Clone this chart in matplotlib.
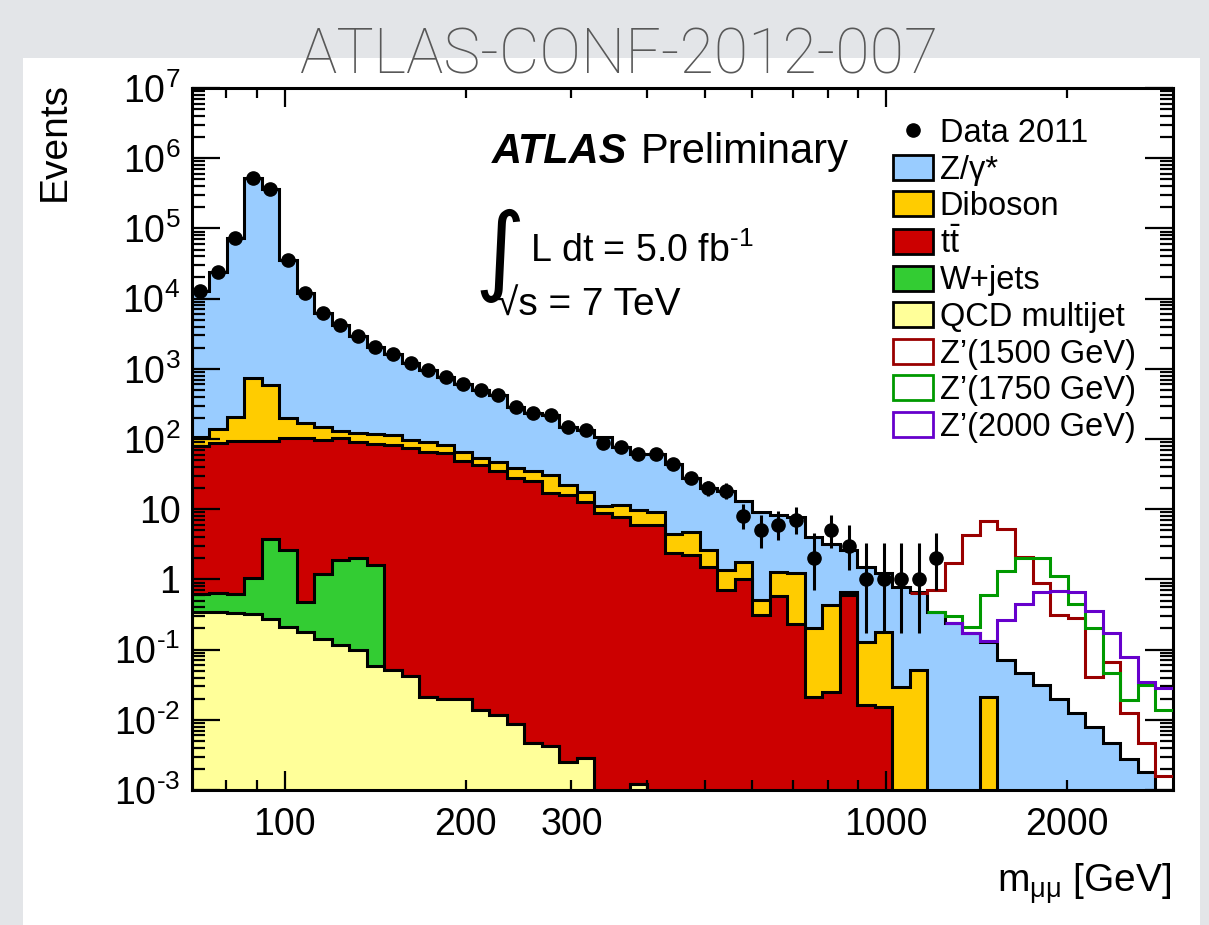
import numpy as np
import matplotlib
matplotlib.use('Agg')
import matplotlib.pyplot as plt
from matplotlib.patches import Rectangle, Patch
from matplotlib.lines import Line2D
from matplotlib.ticker import FixedLocator, FuncFormatter

plt.rcParams['font.family'] = ['Liberation Sans', 'DejaVu Sans']
plt.rcParams['mathtext.fontset'] = 'custom'
plt.rcParams['mathtext.rm'] = 'Liberation Sans'
plt.rcParams['mathtext.it'] = 'Liberation Sans:italic'
plt.rcParams['mathtext.bf'] = 'Liberation Sans:bold'

# Binning: 56 log bins between 70 and 3000 GeV
m_lo, m_hi, n_bins = 70.0, 3000.0, 56
edges = np.logspace(np.log10(m_lo), np.log10(m_hi), n_bins + 1)
centers = np.sqrt(edges[:-1] * edges[1:])

# Data 2011 (events per bin, bins 0..42, zero afterwards)
data = [13000, 24000, 72000, 520000, 360000, 35000, 12000, 6300, 4200, 2900,
        2060, 1600, 1220, 960, 770, 600, 500, 420, 290, 235,
        219, 147, 133, 88, 78, 61, 61, 44, 28, 20,
        18, 8, 5, 6, 7, 2, 5, 3, 1, 1,
        1, 1, 2] + [0] * 13

# Backgrounds (per process, not stacked)
qcd = [0.34, 0.34, 0.33, 0.32, 0.27, 0.21, 0.18, 0.14, 0.116, 0.099,
       0.058, 0.051, 0.042, 0.021, 0.020, 0.020, 0.014, 0.0117, 0.0086, 0.0047,
       0.0042, 0.0025, 0.0029, 0, 0, 0.0012] + [0] * 30
wjets = [0.28, 0.29, 0.29, 0.72, 3.5, 2.4, 0.29, 1.04, 1.77, 1.9,
         1.54] + [0] * 45
ttbar = [79, 87, 92, 92, 89, 102, 104, 96, 100, 89,
         83, 82, 74, 66, 63, 48, 43, 35, 27.6, 25,
         16.8, 15.8, 12.8, 8.7, 7.8, 6.0, 6.0, 2.35, 2.2, 1.5,
         0.71, 1.0, 0.31, 0.58, 0.23, 0.021, 0.025, 0.60, 0.016, 0.015] + [0] * 16
diboson = [28, 49, 116, 640, 497, 92, 63, 50, 29, 29,
           32, 32, 23, 25, 19, 18, 10, 12, 10.4, 10,
           13.9, 6.2, 5.0, 2.4, 3.7, 3.8, 3.2, 2.15, 2.6, 1.1,
           0.65, 0.79, 0.20, 0.71, 0.99, 0.18, 0.40, 0.07, 0.114, 0.165,
           0.0295, 0.051, 0, 0, 0, 0.021] + [0] * 10
zgamma = [12900, 23900, 71800, 519000, 359000, 34800, 11830, 6150, 4070, 2780,
          1940, 1490, 1120, 870, 690, 534, 447, 373, 252, 200,
          188, 125, 115, 94, 66.5, 51, 52, 39.5, 23.2, 17.4,
          16.6, 11.2, 8.7, 7.0, 6.6, 3.87, 2.78, 1.93, 1.37, 1.04,
          0.76, 0.60, 0.347, 0.237, 0.17, 0.109, 0.071, 0.046, 0.031, 0.020,
          0.0124, 0.0080, 0.0046, 0.0028, 0.0018, 0.001]

# Z' signals drawn on top of the total background (bkg + signal), from first bin listed
zp1500_first, zp1500 = 41, [0.65, 0.71, 1.7, 4.3, 6.9, 5.3, 2.1, 0.88, 0.31, 0.28,
                            0.041, 0.066, 0.0124, 0.0046, 0.0016]
zp1750_first, zp1750 = 42, [0.347, 0.30, 0.21, 0.59, 1.33, 2.0, 2.0, 1.13, 0.45, 0.20,
                            0.046, 0.019, 0.031, 0.014]
zp2000_first, zp2000 = 43, [0.237, 0.175, 0.134, 0.26, 0.45, 0.66, 0.69, 0.67, 0.358, 0.17,
                            0.079, 0.035, 0.028]

# Figure in pixel units
W, H = 1209, 925
fig = plt.figure(figsize=(W / 100, H / 100), dpi=100, facecolor='#e3e5e8')
bg = fig.add_axes([0, 0, 1, 1], zorder=0)
bg.set_xlim(0, W)
bg.set_ylim(H, 0)
bg.axis('off')
bg.add_patch(Rectangle((23, 58), 1177, 867, facecolor='white', edgecolor='none'))
bg.text(620, 73, 'ATLAS-CONF-2012-007', ha='center', va='baseline', fontsize=45,
        family=['Roboto', 'DejaVu Sans'], weight='light', color='#585858')

ax_l, ax_r, ax_t, ax_b = 191.5, 1172.7, 88, 790
ax = fig.add_axes([ax_l / W, 1 - ax_b / H, (ax_r - ax_l) / W, (ax_b - ax_t) / H], zorder=2)
ax.set_facecolor('none')

# Stack
layers = [qcd, wjets, ttbar, diboson, zgamma]
colors = ['#ffff99', '#33cc33', '#cc0000', '#ffcc00', '#99ccff']
cum = np.cumsum(np.array(layers, dtype=float), axis=0)
floor = 1e-6
for level, col in zip(cum[::-1], colors[::-1]):
    vals = np.where(level > 0, level, floor)
    ax.stairs(vals, edges, baseline=floor, fill=True, facecolor=col,
              edgecolor='black', linewidth=2.2, zorder=1)

# Signals
for first, vals, col in [(zp1500_first, zp1500, '#990000'),
                         (zp1750_first, zp1750, '#009900'),
                         (zp2000_first, zp2000, '#6600cc')]:
    ax.stairs(vals, edges[first:first + len(vals) + 1], baseline=None,
              color=col, linewidth=2.2, zorder=3)

# Data with Poisson errors
n = np.array(data, dtype=float)
sel = n > 0
nn = n[sel]
lo = nn - nn * (1 - 1 / (9 * nn) - 1 / (3 * np.sqrt(nn))) ** 3
hi = (nn + 1) * (1 - 1 / (9 * (nn + 1)) + 1 / (3 * np.sqrt(nn + 1))) ** 3 - nn
ax.errorbar(centers[sel], nn, yerr=[lo, hi], fmt='o', color='black', ms=9.5,
            elinewidth=2.2, capsize=0, zorder=6)

ax.set_xscale('log')
ax.set_yscale('log')
ax.set_xlim(m_lo, m_hi)
ax.set_ylim(1e-3, 1e7)

for s in ax.spines.values():
    s.set_linewidth(2.2)

ax.xaxis.set_major_locator(FixedLocator([100, 1000]))
ax.xaxis.set_minor_locator(FixedLocator([80, 90, 200, 300, 400, 500, 600, 700, 800, 900, 2000]))
ax.xaxis.set_major_formatter(FuncFormatter(lambda v, p: '%d' % v))
ax.xaxis.set_minor_formatter(FuncFormatter(lambda v, p: '%d' % v if v in (200, 300, 2000) else ''))


def ylab(v, pos):
    e = int(round(np.log10(v)))
    if e == 0:
        return '1'
    if e == 1:
        return '10'
    return r'$\mathregular{10^{%s}}$' % str(e).replace('-', '‐')


ax.yaxis.set_major_locator(FixedLocator([10.0 ** e for e in range(-3, 8)]))
ax.yaxis.set_minor_locator(FixedLocator([m * 10.0 ** e for e in range(-3, 7) for m in range(2, 10)]))
ax.yaxis.set_major_formatter(FuncFormatter(ylab))

ax.tick_params(which='both', direction='in', top=True, right=True, width=1.6, labelsize=27)
ax.tick_params(axis='x', which='major', length=14, pad=12)
ax.tick_params(axis='x', which='minor', length=7, pad=12)
ax.tick_params(axis='y', which='major', length=20, pad=8)
ax.tick_params(axis='y', which='minor', length=9.5)

# Overlay for texts
fg = fig.add_axes([0, 0, 1, 1], zorder=5)
fg.set_facecolor('none')
fg.set_xlim(0, W)
fg.set_ylim(H, 0)
fg.axis('off')

fg.text(55, 82, 'Events', rotation=90, ha='center', va='top', fontsize=28)
fg.text(1172, 893, r'm$_{\mathregular{μμ}}$ [GeV]', ha='right', va='baseline', fontsize=28)

fg.text(492, 163, 'ATLAS', weight='bold', style='italic', fontsize=30, va='baseline')
fg.text(641, 163, 'Preliminary', fontsize=30, va='baseline')
fg.text(474, 282, '∫', family=['DejaVu Sans'], fontsize=70, va='baseline')
fg.text(530, 262, r'L dt = 5.0 fb$^{\mathregular{‐1}}$', fontsize=27, va='baseline')
fg.text(497, 316, '√s = 7 TeV', fontsize=28, va='baseline')

# Legend
handles = [Line2D([], [], marker='o', color='black', linestyle='none', ms=9.5),
           Patch(facecolor='#99ccff', edgecolor='black', linewidth=2),
           Patch(facecolor='#ffcc00', edgecolor='black', linewidth=2),
           Patch(facecolor='#cc0000', edgecolor='black', linewidth=2),
           Patch(facecolor='#33cc33', edgecolor='black', linewidth=2),
           Patch(facecolor='#ffff99', edgecolor='black', linewidth=2),
           Patch(facecolor='white', edgecolor='#990000', linewidth=2),
           Patch(facecolor='white', edgecolor='#009900', linewidth=2),
           Patch(facecolor='white', edgecolor='#6600cc', linewidth=2)]
labels = ['Data 2011', 'Z/γ*', 'Diboson', r'$\mathregular{t\bar{t}}$', 'W+jets', 'QCD multijet',
          'Z’(1500 GeV)', 'Z’(1750 GeV)', 'Z’(2000 GeV)']
leg = ax.legend(handles, labels, loc='upper left',
                bbox_to_anchor=((893 - ax_l) / (ax_r - ax_l), (ax_b - 118) / (ax_b - ax_t)),
                frameon=False, fontsize=23.5, borderpad=0, borderaxespad=0,
                handlelength=1.23, handleheight=0.8, handletextpad=0.2, labelspacing=0.17)

fig.savefig('out.png', dpi=100, facecolor=fig.get_facecolor())
